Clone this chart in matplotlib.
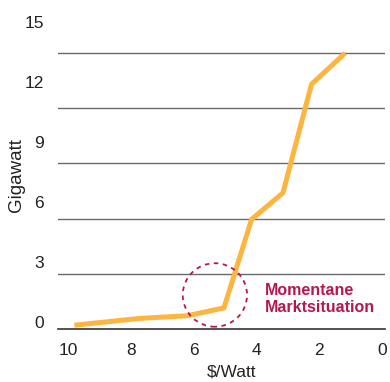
import matplotlib.pyplot as plt
from matplotlib.patches import Ellipse

# Installed capacity vs. module price
price = [9.72, 7.7, 6.2, 5.03, 4.15, 3.15, 2.24, 1.23]
gigawatt = [0.22, 0.58, 0.72, 1.15, 5.96, 7.4, 13.3, 14.9]

grid_values = [0, 3, 6, 9, 12, 15]
y_labels = ['0', '3', '6', '9', '12', '15']
x_ticks = [10, 8, 6, 4, 2, 0]

orange = '#fdb53f'
crimson = '#b5174f'

plt.rcParams['font.family'] = ['Liberation Sans', 'DejaVu Sans']

fig = plt.figure(figsize=(3.9, 3.82), dpi=100)
ax = fig.add_axes([0.1487, 0.1387, 0.8383, 0.83])

ax.set_xlim(10.32, -0.1)
ax.set_ylim(0, 17.23)

for v in grid_values[1:]:
    ax.axhline(v, color='#6a6a6a', lw=1.0, zorder=1)

ax.plot(price, gigawatt, color=orange, lw=3.6, solid_joinstyle='miter', zorder=3)

# current market situation marker
ax.add_patch(Ellipse((5.32, 1.85), 2.05, 3.45, fill=False, ec=crimson,
                     lw=1.3, ls=(0, (2.5, 2.5)), zorder=4))
ax.text(3.73, 2.5, 'Momentane\nMarktsituation', color=crimson,
        fontsize=11.5, fontweight='bold', va='top', ha='left',
        linespacing=1.2)

for s in ['top', 'right', 'left']:
    ax.spines[s].set_visible(False)
ax.spines['bottom'].set_color('#333333')
ax.spines['bottom'].set_linewidth(1.2)

ax.set_xticks(x_ticks)
ax.set_xticklabels([str(t) for t in x_ticks])
ax.tick_params(axis='x', length=0, pad=10, labelsize=12.5, colors='#222222')
ax.set_yticks([])
ax.set_xlabel('$/Watt', fontsize=12.5, color='#222222')
ax.xaxis.set_label_coords(0.53, -0.112)

# the value labels sit on their own scale on the left
lab = ax.twinx()
lab.set_ylim(-0.35, 15.5)
lab.yaxis.tick_left()
lab.set_yticks(grid_values)
lab.set_yticklabels(y_labels)
lab.tick_params(axis='y', length=0, pad=10, labelsize=12.5, colors='#222222')
for s in lab.spines.values():
    s.set_visible(False)
lab.yaxis.set_label_position('left')
lab.set_ylabel('Gigawatt', fontsize=13.5, color='#222222')
lab.yaxis.set_label_coords(-0.1, 0.486)

fig.savefig('out.png', dpi=100)
